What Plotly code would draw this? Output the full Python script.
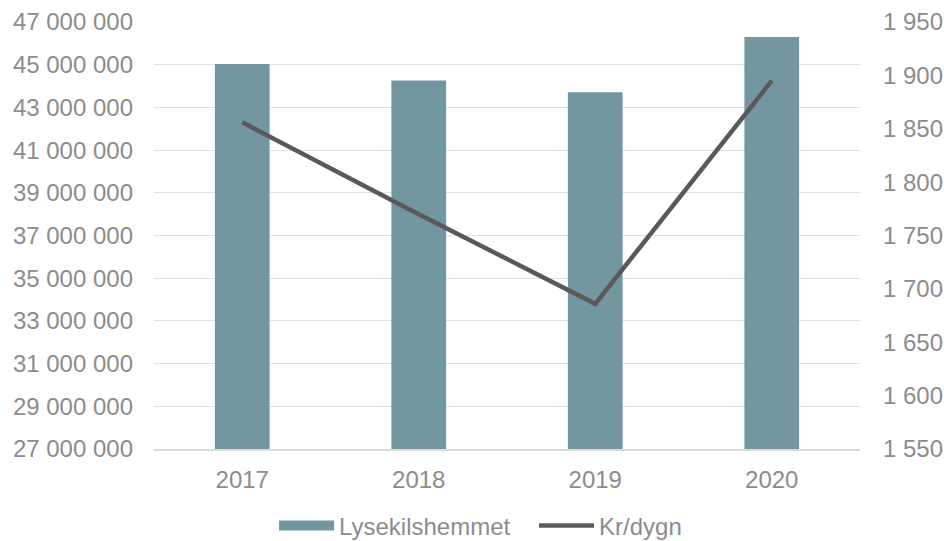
import plotly.graph_objects as go

years = ["2017", "2018", "2019", "2020"]
lysekil = [45030000, 44260000, 43710000, 46300000]
kr_dygn = [1856, 1770, 1686, 1895]

left_ticks = list(range(27000000, 47000001, 2000000))
right_ticks = list(range(1550, 1951, 50))

FONT = "Liberation Sans, Arial, sans-serif"
TXT = "#8c8c8c"
BAR = "#7397a0"
FS = 24

fig = go.Figure()
fig.add_trace(go.Bar(x=years, y=lysekil, name="Lysekilshemmet", showlegend=False,
                     marker=dict(color=BAR, line=dict(width=0)), yaxis="y"))
# legend entry drawn as a wide swatch like the original
fig.add_trace(go.Scatter(x=[None], y=[None], name="Lysekilshemmet", mode="lines",
                         line=dict(color=BAR, width=10), yaxis="y", hoverinfo="skip"))
fig.add_trace(go.Scatter(x=years, y=kr_dygn, name="Kr/dygn", mode="lines",
                         line=dict(color="#595959", width=4.5), yaxis="y2"))

fig.update_layout(
    width=944, height=541,
    margin=dict(l=154, r=84, t=22, b=92, autoexpand=False),
    paper_bgcolor="white", plot_bgcolor="white",
    separators=", ",
    font=dict(family=FONT, size=FS, color=TXT),
    bargap=0.69,
    showlegend=True,
    legend=dict(orientation="h", x=0.17, xanchor="left", y=-0.18, yanchor="middle",
                font=dict(size=FS, color=TXT), itemwidth=55, traceorder="normal",
                entrywidth=190, tracegroupgap=0),
    xaxis=dict(showgrid=False, showline=True, linecolor="#d9d9d9", linewidth=1.5,
               ticks="", ticklabelstandoff=8, tickfont=dict(size=FS, color=TXT),
               automargin=False),
    yaxis=dict(range=[27000000, 47000000], tickvals=left_ticks, tickformat=",d",
               showgrid=True, gridcolor="#e0e0e0", gridwidth=1.3, zeroline=False,
               ticks="", ticklabelstandoff=20, tickfont=dict(size=FS, color=TXT),
               automargin=False),
    yaxis2=dict(range=[1550, 1950], tickvals=right_ticks, tickformat=",d",
                overlaying="y", side="right", showgrid=False, zeroline=False,
                ticks="", ticklabelstandoff=22, tickfont=dict(size=FS, color=TXT),
                automargin=False),
)

fig.write_html("out.html", config={"displayModeBar": False},
               post_script="document.body.style.margin='0';")
